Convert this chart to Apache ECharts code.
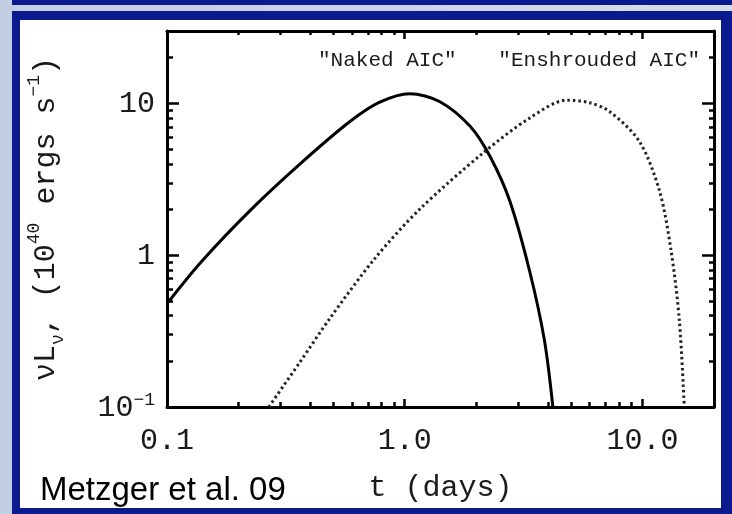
<!DOCTYPE html>
<html>
<head>
<meta charset="utf-8">
<script src="https://cdn.jsdelivr.net/npm/echarts@6/dist/echarts.min.js"></script>
<style>
  html, body { margin: 0; padding: 0; width: 732px; height: 514px; overflow: hidden;
    background: linear-gradient(90deg, #c2cee1 0%, #d3dcea 100%); }
  #topbar { position: absolute; left: 12px; top: 0; width: 720px; height: 5px; background: #0b1a8e; }
  #frame { position: absolute; left: 12px; top: 11px; width: 720px; height: 503px; background: #0b1a8e; }
  #panel { position: absolute; left: 20px; top: 20px; width: 701px; height: 488px; background: #ffffff; }
  #chart { position: absolute; left: 0; top: 0; width: 732px; height: 514px; }
</style>
</head>
<body>
<div id="topbar"></div>
<div id="frame"></div>
<div id="panel"></div>
<div id="chart"></div>
<script>
// Light curves: time since collapse (days) and luminosity (1e40 erg/s)
const nakedT = [0.1, 0.138, 0.223, 0.362, 0.588, 0.785, 1.05, 1.40, 1.88, 2.28, 2.76, 3.35, 3.87, 4.2];
const nakedL = [0.48, 0.89, 1.96, 3.98, 7.6, 10.2, 11.6, 10.3, 7.1, 4.5, 2.3, 0.79, 0.275, 0.1];

const shroudT = [0.268, 0.362, 0.484, 0.748, 1.16, 2.13, 3.35, 4.8, 6.0, 7.26, 9.7, 11.8, 13.2, 14.3, 15.0];
const shroudL = [0.1, 0.197, 0.383, 0.95, 2.02, 4.7, 8.0, 10.5, 10.1, 8.87, 5.63, 2.65, 1.07, 0.372, 0.1];

// Axis ranges and tick marks
const xRange = [0.1, 20];
const yRange = [0.1, 30];
const xMajor = [0.1, 1, 10];
const xMinor = [0.2, 0.3, 0.4, 0.5, 0.6, 0.7, 0.8, 0.9, 2, 3, 4, 5, 6, 7, 8, 9];
const yMajor = [0.1, 1, 10];
const yMinor = [0.2, 0.3, 0.4, 0.5, 0.6, 0.7, 0.8, 0.9, 2, 3, 4, 5, 6, 7, 8, 9, 20];
const xTickText = ['0.1', '1.0', '10.0'];
const yTickText = ['{b|10}{s|\u22121}', '{b|1}', '{b|10}'];

const seriesNames = ['"Naked AIC"', '"Enshrouded AIC"'];

const FONT = 'Liberation Mono';
const INK = '#1a1a1a';

function pick(list, texts, v) {
  for (let i = 0; i < list.length; i++) {
    if (Math.abs(v - list[i]) <= 1e-6 * list[i]) return texts[i];
  }
  return '';
}

function zip(a, b) { return a.map((v, i) => [v, b[i]]); }

function axis(position, range, ticks, len, opts) {
  opts = opts || {};
  return Object.assign({
    type: 'log',
    logBase: 10,
    position: position,
    min: range[0],
    max: range[1],
    axisLine: { show: !!opts.line, onZero: false, lineStyle: { color: '#000', width: 3 } },
    axisTick: { show: true, inside: true, length: len, customValues: ticks,
      lineStyle: { color: '#000', width: 2.5 } },
    axisLabel: { show: false },
    splitLine: { show: false },
    minorTick: { show: false },
    minorSplitLine: { show: false },
    silent: true
  }, opts.extra || {});
}

const xAxes = [
  axis('bottom', xRange, xMajor, 8, { line: true, extra: {
    name: 't (days)', nameLocation: 'middle', nameGap: 66,
    nameTextStyle: { fontFamily: FONT, fontSize: 30, color: INK },
    axisLabel: { show: true, customValues: xMajor, margin: 19,
      fontFamily: FONT, fontSize: 30, color: INK,
      formatter: v => pick(xMajor, xTickText, v) }
  }}),
  axis('bottom', xRange, xMinor, 5),
  axis('top', xRange, xMajor, 8, { line: true }),
  axis('top', xRange, xMinor, 4)
];

const yAxes = [
  axis('left', yRange, yMajor, 12, { line: true, extra: {
    name: '{m|\u03bdL}{sub|\u03bd}{m|, (10}{sup|40}{m| ergs s}{sup|\u22121}{m|)}',
    nameLocation: 'middle', nameGap: 106,
    nameTextStyle: { fontFamily: FONT, color: INK,
      rich: {
        m: { fontFamily: FONT, fontSize: 30, color: INK, lineHeight: 36, verticalAlign: 'bottom' },
        sub: { fontFamily: FONT, fontSize: 18, color: INK, lineHeight: 36, verticalAlign: 'bottom', padding: [0, 0, -6, 0] },
        sup: { fontFamily: FONT, fontSize: 18, color: INK, lineHeight: 36, verticalAlign: 'top' }
      } },
    axisLabel: { show: true, customValues: yMajor, margin: 12,
      formatter: v => pick(yMajor, yTickText, v),
      rich: {
        b: { fontFamily: FONT, fontSize: 30, color: INK, lineHeight: 32, verticalAlign: 'bottom' },
        s: { fontFamily: FONT, fontSize: 18, color: INK, lineHeight: 32, verticalAlign: 'top' }
      } }
  }}),
  axis('left', yRange, yMinor, 6),
  axis('right', yRange, yMajor, 12, { line: true }),
  axis('right', yRange, yMinor, 5)
];

const chart = echarts.init(document.getElementById('chart'), null, { renderer: 'canvas' });

chart.setOption({
  backgroundColor: 'transparent',
  animation: false,
  grid: { left: 167, right: 18, top: 31, bottom: 107, containLabel: false },
  xAxis: xAxes,
  yAxis: yAxes,
  graphic: [
    { type: 'text', left: 318, top: 50, silent: true,
      style: { text: seriesNames[0], fontFamily: FONT, fontSize: 21, fill: INK } },
    { type: 'text', right: 32, top: 50, silent: true,
      style: { text: seriesNames[1], fontFamily: FONT, fontSize: 21, fill: INK } },
    { type: 'text', left: 40, top: 474, silent: true,
      style: { text: 'Metzger et al. 09', fontFamily: 'Liberation Sans', fontSize: 33, fill: '#000' } }
  ],
  series: [
    {
      name: seriesNames[0], type: 'line', xAxisIndex: 0, yAxisIndex: 0,
      data: zip(nakedT, nakedL), showSymbol: false, smooth: 0.3,
      lineStyle: { color: '#000', width: 3 }, clip: true
    },
    {
      name: seriesNames[1], type: 'line', xAxisIndex: 0, yAxisIndex: 0,
      data: zip(shroudT, shroudL), showSymbol: false, smooth: 0.3,
      lineStyle: { color: '#222', width: 3, type: [2.5, 3] }, clip: true
    }
  ]
});
</script>
</body>
</html>
